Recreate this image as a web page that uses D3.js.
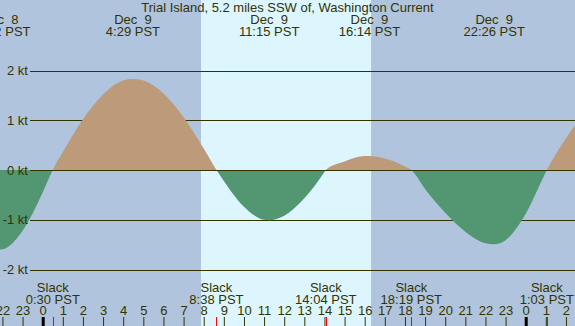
<!DOCTYPE html>
<html>
<head>
<meta charset="utf-8">
<script src="https://cdn.jsdelivr.net/npm/d3@7"></script>
<style>
  body { margin: 0; }
  svg { display: block; font-family: 'Liberation Sans', Arial, sans-serif; font-size: 13px; }
  text { fill: #333300; white-space: pre; }
</style>
</head>
<body>
<div id="chart"></div>
<script>
const title = 'Trial Island, 5.2 miles SSW of, Washington Current';

// max flood / ebb events (day of December, local time, knots)
const extremaDay = [8, 9, 9, 9, 9];
const extremaTime = ['21:52', '4:29', '11:15', '16:14', '22:26'];
const extremaKt = [-1.6, 1.83, -1.01, 0.28, -1.49];

// slack water
const slackDay = [9, 9, 9, 9, 10];
const slackTime = ['0:30', '8:38', '14:04', '18:19', '1:03'];

// speed, hours from Dec 9 midnight
const readHour = [-2, -1, 0, 1, 2, 3, 4, 5, 6, 7, 8, 9, 10, 11, 12, 13, 14, 15, 16, 17, 18, 19, 20, 21, 22, 23, 24, 25, 26, 26.45];
const readKt = [-1.595, -1.22, -0.45, 0.36, 1.02, 1.52, 1.8, 1.8, 1.54, 1.06, 0.43, -0.22, -0.74, -1.0, -0.92, -0.57, -0.04, 0.17, 0.28, 0.23, 0.07, -0.38, -0.86, -1.24, -1.47, -1.41, -0.88, -0.04, 0.64, 0.9];

const sunrise = '7:52';
const sunset = '16:19';

const ktTicks = [-2, -1, 0, 1, 2];
const hourTicks = d3.range(-2, 27);

const size = { width: 575, height: 326 };

const hourOf = (day, time) => {
  const [h, m] = time.split(':').map(Number);
  return (day - 9) * 24 + h + m / 60;
};

const x = d3.scaleLinear().domain([-2.1217, 26.449]).range([0, size.width]);
const y = d3.scaleLinear().domain([-2, 2]).range([269.5, 70.5]);

const svg = d3.select('#chart')
  .append('svg')
  .attr('width', size.width)
  .attr('height', size.height);

// night / day background
svg.append('rect')
  .attr('width', size.width)
  .attr('height', size.height)
  .attr('fill', '#b0c4de');

svg.append('rect')
  .attr('x', x(hourOf(9, sunrise)))
  .attr('width', x(hourOf(9, sunset)) - x(hourOf(9, sunrise)))
  .attr('height', size.height)
  .attr('fill', '#ddf6fe');

// kt grid (under the fills)
const grid = svg.append('g')
  .attr('transform', 'translate(30,0)')
  .call(d3.axisLeft(y)
    .tickValues(ktTicks)
    .tickSize(-(size.width - 30))
    .tickFormat(''));
grid.select('.domain').remove();
grid.selectAll('line').attr('stroke', '#333300').attr('shape-rendering', 'crispEdges');

// curve
const events = [
  ...extremaTime.map((t, i) => ({ h: hourOf(extremaDay[i], t), v: extremaKt[i] })),
  ...slackTime.map((t, i) => ({ h: hourOf(slackDay[i], t), v: 0 })),
];
const points = [...events, ...readHour.map((h, i) => ({ h, v: readKt[i] }))]
  .sort((a, b) => a.h - b.h)
  .filter((d, i, arr) => i === 0 || d.h - arr[i - 1].h > 0.02);

const area = d3.area()
  .x((d) => x(d.h))
  .y0(y(0))
  .y1((d) => y(d.v))
  .curve(d3.curveMonotoneX);

const defs = svg.append('defs');
defs.append('clipPath').attr('id', 'above')
  .append('rect').attr('width', size.width).attr('height', y(0));
defs.append('clipPath').attr('id', 'below')
  .append('rect').attr('y', y(0)).attr('width', size.width).attr('height', size.height - y(0));

svg.append('path')
  .datum(points)
  .attr('d', area)
  .attr('fill', '#bd9a7a')
  .attr('clip-path', 'url(#above)');

svg.append('path')
  .datum(points)
  .attr('d', area)
  .attr('fill', '#529672')
  .attr('clip-path', 'url(#below)');

svg.append('line')
  .attr('x1', 30)
  .attr('x2', size.width)
  .attr('y1', y(0))
  .attr('y2', y(0))
  .attr('stroke', '#333300')
  .attr('shape-rendering', 'crispEdges');

// kt labels (over the fills)
const yAxis = svg.append('g')
  .attr('transform', 'translate(30,0)')
  .call(d3.axisLeft(y)
    .tickValues(ktTicks)
    .tickSize(0)
    .tickPadding(2)
    .tickFormat((d) => `${d} kt`));
yAxis.select('.domain').remove();
yAxis.selectAll('line').remove();
yAxis.selectAll('text').attr('fill', '#333300').style('font-size', '13px').style('font-family', null);

// title and event labels
svg.append('text')
  .attr('x', size.width / 2)
  .attr('y', 11.5)
  .attr('text-anchor', 'middle')
  .text(title);

const topLabels = svg.append('g').attr('text-anchor', 'middle');
extremaTime.forEach((t, i) => {
  const cx = x(hourOf(extremaDay[i], t));
  topLabels.append('text').attr('x', cx).attr('y', 23.5)
    .text(`Dec ${String(extremaDay[i]).padStart(2, ' ')}`);
  topLabels.append('text').attr('x', cx).attr('y', 36).text(`${t} PST`);
});

const slackLabels = svg.append('g').attr('text-anchor', 'middle');
slackTime.forEach((t, i) => {
  const cx = x(hourOf(slackDay[i], t));
  slackLabels.append('text').attr('x', cx).attr('y', 292).text('Slack');
  slackLabels.append('text').attr('x', cx).attr('y', 304).text(`${t} PST`);
});

// hour axis
const xAxis = svg.append('g')
  .attr('transform', `translate(0,${size.height})`)
  .call(d3.axisTop(x)
    .tickValues(hourTicks)
    .tickSize(9)
    .tickPadding(2)
    .tickFormat((d) => ((d % 24) + 24) % 24));
xAxis.select('.domain').remove();
xAxis.selectAll('text').attr('fill', '#333300').style('font-size', '13px').style('font-family', null);
xAxis.selectAll('line').attr('stroke', '#333300');
xAxis.selectAll('.tick')
  .filter((d) => d % 24 === 0)
  .select('line')
  .attr('stroke', '#000')
  .attr('stroke-width', 3);

svg.selectAll('.slack-tick')
  .data(slackTime)
  .enter()
  .append('line')
  .attr('x1', (t, i) => Math.round(x(hourOf(slackDay[i], t))) + 0.5)
  .attr('x2', (t, i) => Math.round(x(hourOf(slackDay[i], t))) + 0.5)
  .attr('y1', size.height - 9)
  .attr('y2', size.height)
  .attr('stroke', '#ff0000');
</script>
</body>
</html>
